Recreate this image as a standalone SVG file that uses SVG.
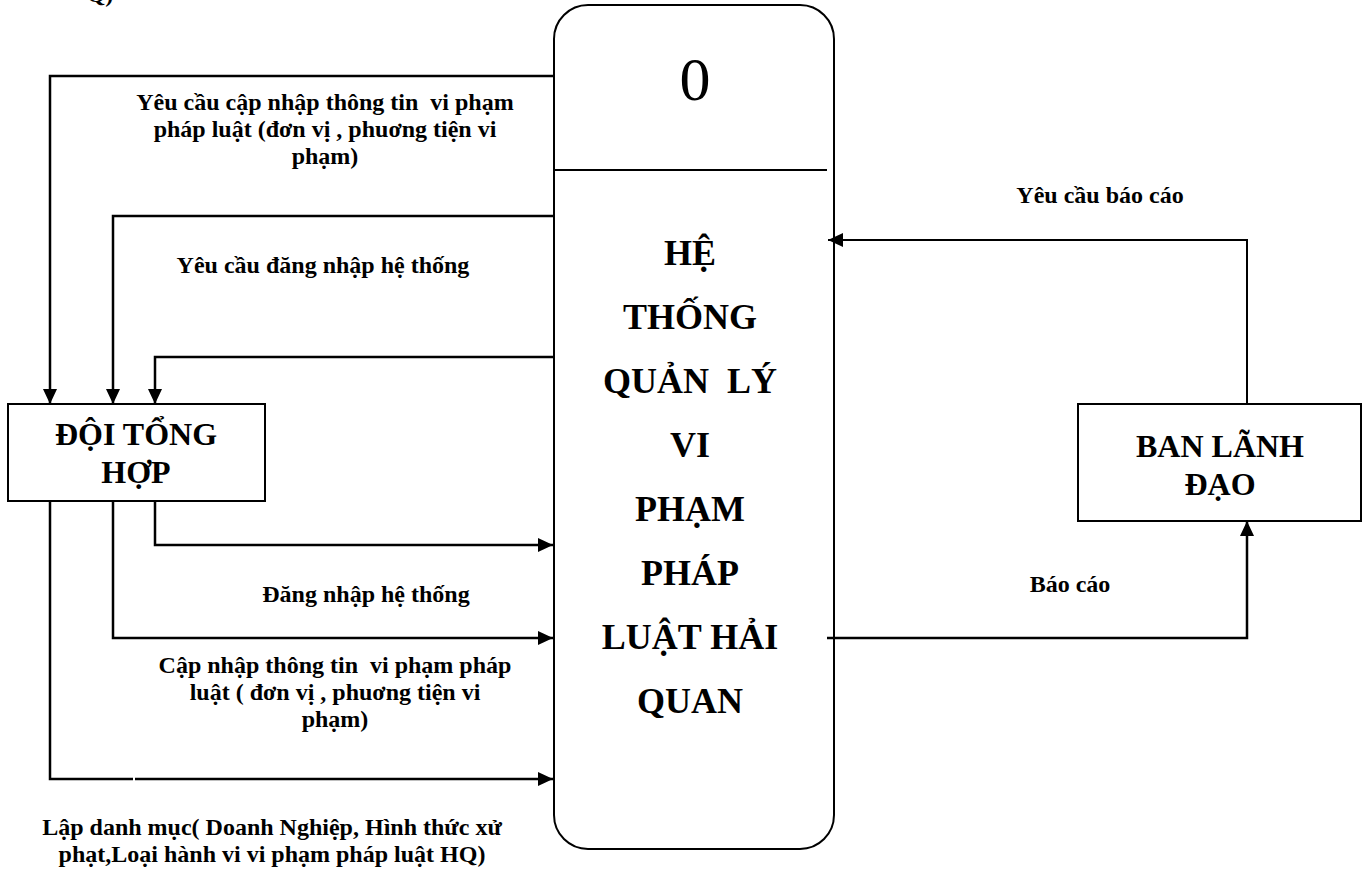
<svg xmlns="http://www.w3.org/2000/svg" width="1368" height="872" viewBox="0 0 1368 872">
<defs>
<marker id="ah" markerUnits="userSpaceOnUse" viewBox="0 0 15 14" refX="15" refY="7" markerWidth="15" markerHeight="14" orient="auto">
<path d="M0,0 L15,7 L0,14 Z" fill="#000"/>
</marker>
</defs>
<style>
text{font-family:"Liberation Serif","Times New Roman",serif;fill:#000;text-anchor:middle}
.lbl{font-size:24px;font-weight:bold;white-space:pre}
.ent{font-size:32px;font-weight:bold}
.proc{font-size:36px;font-weight:bold;white-space:pre}
.box{fill:#fff;stroke:#000;stroke-width:2}
.c{fill:none;stroke:#000;stroke-width:2.5}
.c2{fill:none;stroke:#000;stroke-width:2}
</style>
<rect width="1368" height="872" fill="#fff"/>
<text class="lbl" x="100" y="2">Q)</text>
<g id="process">
<rect class="box" x="554" y="5" width="280" height="844" rx="34" ry="34"/>
<line x1="554" y1="170" x2="827" y2="170" stroke="#000" stroke-width="2"/>
<text x="695" y="100" style="font-size:62px">0</text>
<text class="proc" x="690" y="265">HỆ</text>
<text class="proc" x="690" y="329">THỐNG</text>
<text class="proc" x="690" y="393">QUẢN  LÝ</text>
<text class="proc" x="690" y="457">VI</text>
<text class="proc" x="690" y="521">PHẠM</text>
<text class="proc" x="690" y="585">PHÁP</text>
<text class="proc" x="690" y="649">LUẬT HẢI</text>
<text class="proc" x="690" y="713">QUAN</text>
</g>
<g id="doi-tong-hop">
<rect class="box" x="8" y="404" width="257" height="97"/>
<text class="ent" x="136" y="445">ĐỘI TỔNG</text>
<text class="ent" x="136" y="483">HỢP</text>
</g>
<g id="ban-lanh-dao">
<rect class="box" x="1078" y="404" width="283" height="117"/>
<text class="ent" x="1220" y="457">BAN LÃNH</text>
<text class="ent" x="1220" y="495">ĐẠO</text>
</g>
<g id="connectors">
<path class="c" d="M553,76 H50 V404" marker-end="url(#ah)"/>
<path class="c" d="M553,216 H113 V404" marker-end="url(#ah)"/>
<path class="c" d="M553,357 H155 V404" marker-end="url(#ah)"/>
<path class="c" d="M155,501 V545 H553" marker-end="url(#ah)"/>
<path class="c" d="M113,501 V638 H553" marker-end="url(#ah)"/>
<path class="c" d="M50,501 V779 H133"/>
<path class="c" d="M135,779 H553" marker-end="url(#ah)"/>
<path class="c2" d="M1247,404 V240 H828" marker-end="url(#ah)"/>
<path class="c" d="M827,638 H1247 V521" marker-end="url(#ah)"/>
<text class="lbl" x="325" y="110">Yêu cầu cập nhập thông tin  vi phạm</text>
<text class="lbl" x="325" y="137">pháp luật (đơn vị , phuơng tiện vi</text>
<text class="lbl" x="325" y="164">phạm)</text>
<text class="lbl" x="323" y="273">Yêu cầu đăng nhập hệ thống</text>
<text class="lbl" x="366" y="602">Đăng nhập hệ thống</text>
<text class="lbl" x="335" y="673">Cập nhập thông tin  vi phạm pháp</text>
<text class="lbl" x="335" y="700">luật ( đơn vị , phuơng tiện vi</text>
<text class="lbl" x="335" y="727">phạm)</text>
<text class="lbl" x="272" y="835">Lập danh mục( Doanh Nghiệp, Hình thức xử</text>
<text class="lbl" x="272" y="862">phạt,Loại hành vi vi phạm pháp luật HQ)</text>
<text class="lbl" x="1100" y="203">Yêu cầu báo cáo</text>
<text class="lbl" x="1070" y="592">Báo cáo</text>
</g>
</svg>
